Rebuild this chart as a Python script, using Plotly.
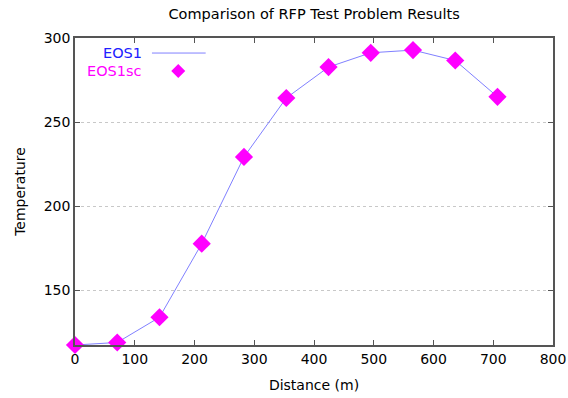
import plotly.graph_objects as go

distance = [0, 70.7, 141.4, 212.1, 282.8, 353.6, 424.3, 495.0, 565.7, 636.4, 707.1]
eos1 = [117.3, 118.8, 133.8, 177.6, 229.2, 264.3, 282.7, 291.2, 292.8, 286.6, 265.0]
eos1sc = [117.3, 118.8, 133.8, 177.6, 229.2, 264.3, 282.7, 291.2, 292.8, 286.6, 265.0]

x_ticks = [0, 100, 200, 300, 400, 500, 600, 700, 800]
y_ticks = [150, 200, 250, 300]

FONT = "DejaVu Sans, sans-serif"

fig = go.Figure()
fig.add_trace(go.Scatter(x=distance, y=eos1, mode="lines", name="EOS1",
                         line=dict(color="rgb(128,128,255)", width=1), showlegend=False))
fig.add_trace(go.Scatter(x=distance, y=eos1sc, mode="markers", name="EOS1sc",
                         marker=dict(symbol="diamond", size=14, color="#ff00ff"),
                         showlegend=False, cliponaxis=False))

# legend (gnuplot style: text then sample)
fig.add_annotation(x=0.1395, y=0.951, xref="paper", yref="paper", text="EOS1",
                   showarrow=False, xanchor="right", yanchor="middle", xshift=2,
                   font=dict(color="#2020ff", size=14.5, family=FONT))
fig.add_annotation(x=0.1395, y=0.8925, xref="paper", yref="paper", text="EOS1sc",
                   showarrow=False, xanchor="right", yanchor="middle", xshift=2,
                   font=dict(color="#ff00ff", size=14.5, family=FONT))
fig.add_shape(type="line", xref="paper", yref="paper", x0=0.161, x1=0.2734, y0=0.951, y1=0.951,
              line=dict(color="rgb(128,128,255)", width=1))
fig.add_shape(type="path", xref="paper", yref="paper", xsizemode="pixel", ysizemode="pixel",
              xanchor=0.216, yanchor=0.8925,
              path="M 0 7 L 7 0 L 0 -7 L -7 0 Z", fillcolor="#ff00ff", line=dict(width=0))

fig.update_layout(
    width=568, height=398,
    margin=dict(l=75, r=15, t=38, b=53, autoexpand=False),
    paper_bgcolor="white", plot_bgcolor="white",
    font=dict(family=FONT, size=14, color="black"),
    title=dict(text="Comparison of RFP Test Problem Results", x=0.553, xanchor="center",
               y=0.965, yanchor="middle", font=dict(size=14.5, family=FONT)),
    xaxis=dict(range=[0, 800], tickvals=x_ticks, ticks="inside", ticklen=5, tickcolor="#555",
               showline=True, linecolor="#555", linewidth=1.5, mirror="ticks",
               showgrid=False, zeroline=False, automargin=False,
               title=dict(text="Distance (m)", standoff=15, font=dict(size=14)),
               tickfont=dict(size=14)),
    yaxis=dict(range=[117.3, 300], tickvals=y_ticks, ticks="inside", ticklen=5, tickcolor="#555",
               showline=True, linecolor="#555", linewidth=1.5, mirror="ticks",
               showgrid=True, gridcolor="#c8c8c8", griddash="dot", gridwidth=1, zeroline=False,
               automargin=False,
               title=dict(text="Temperature", standoff=15, font=dict(size=14)),
               tickfont=dict(size=14)),
)

fig.write_html("out.html")
